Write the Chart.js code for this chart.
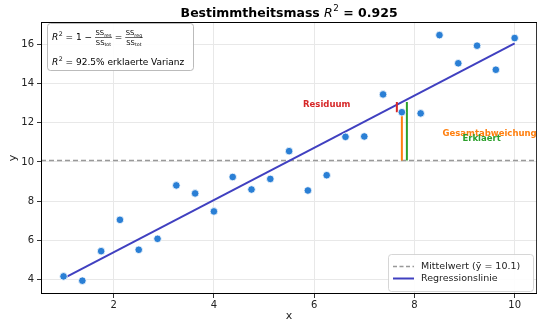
<!DOCTYPE html>
<html>
<head>
<meta charset="utf-8">
<script src="https://cdn.jsdelivr.net/npm/chart.js@4.4.0/dist/chart.umd.min.js"></script>
<style>
  html, body { margin: 0; padding: 0; background: #fff; overflow: hidden; }
  #wrap { width: 537px; height: 322px; overflow: hidden; }
</style>
</head>
<body>
<div id="wrap"><canvas id="chart" width="542" height="322"></canvas></div>
<script>
// data
const xVals = [1, 1.375, 1.75, 2.125, 2.5, 2.875, 3.25, 3.625, 4, 4.375, 4.75, 5.125, 5.5,
  5.875, 6.25, 6.625, 7, 7.375, 7.75, 8.125, 8.5, 8.875, 9.25, 9.625, 10];
const yVals = [4.15, 3.93, 5.44, 7.04, 5.51, 6.07, 8.80, 8.39, 7.47, 9.23, 8.59, 9.13, 10.55,
  8.54, 9.32, 11.28, 11.30, 13.45, 12.54, 12.48, 16.48, 15.04, 15.94, 14.71, 16.33];
const meanY = 10.07;
const regX = [1, 10];
const regY = [4.05, 16.06];
const xTicks = [2, 4, 6, 8, 10];
const yTicks = [4, 6, 8, 10, 12, 14, 16];
const xRange = [0.55, 10.45];
const yRange = [3.25, 17.15];
// highlighted point and its deviations
const segX = 7.75;
const segYi = 12.54;
const segYhat = 13.06;

const FONT = '"DejaVu Sans", sans-serif';

const scatterPts = xVals.map((x, i) => ({ x, y: yVals[i] }));
const regPts = regX.map((x, i) => ({ x, y: regY[i] }));

function seg(x, y0, y1, color, order) {
  return {
    data: [{ x, y: y0 }, { x, y: y1 }],
    showLine: true, borderColor: color, borderWidth: 2, pointRadius: 0, order
  };
}

function drawFrac(ctx, x, yBase, num, numSub, den, denSub) {
  const big = 6.8, small = 4.8;
  function part(txt, sub, yb) {
    ctx.font = big + 'px ' + FONT;
    const w1 = ctx.measureText(txt).width;
    ctx.font = small + 'px ' + FONT;
    const w2 = ctx.measureText(sub).width;
    return { w: w1 + w2, draw(x0) {
      ctx.font = big + 'px ' + FONT; ctx.fillText(txt, x0, yb);
      ctx.font = small + 'px ' + FONT; ctx.fillText(sub, x0 + w1, yb + 1.5);
    } };
  }
  const n = part(num, numSub, yBase - 4.8);
  const d = part(den, denSub, yBase + 4.6);
  const w = Math.max(n.w, d.w) + 1;
  n.draw(x + (w - n.w) / 2);
  d.draw(x + (w - d.w) / 2);
  ctx.fillRect(x, yBase - 3, w, 0.6);
  return w;
}

function drawR2(ctx, x, y, size) {
  ctx.font = 'oblique ' + size + 'px ' + FONT;
  ctx.fillText('R', x, y);
  let cx = x + ctx.measureText('R').width + 0.5;
  ctx.font = (size * 0.7) + 'px ' + FONT;
  ctx.fillText('2', cx, y - size * 0.42);
  return cx + ctx.measureText('2').width;
}

const overlay = {
  id: 'overlay',
  afterDatasetsDraw(chart) {
    const { ctx, chartArea: a, scales } = chart;
    const sx = scales.x, sy = scales.y;
    ctx.save();

    // frame
    ctx.strokeStyle = '#000';
    ctx.lineWidth = 1;
    ctx.strokeRect(a.left + 0.5, a.top + 0.5, a.right - a.left - 1, a.bottom - a.top - 1);

    // annotations
    ctx.font = 'bold 8.5px ' + FONT;
    ctx.textAlign = 'center';
    ctx.textBaseline = 'middle';
    ctx.fillStyle = '#d62728';
    ctx.fillText('Residuum', sx.getPixelForValue(segX - 1.5), sy.getPixelForValue(12.93));
    ctx.fillStyle = '#ff7f0e';
    ctx.fillText('Gesamtabweichung', sx.getPixelForValue(9.5), sy.getPixelForValue(11.45));
    ctx.fillStyle = '#2ca02c';
    ctx.fillText('Erklaert', sx.getPixelForValue(9.34), sy.getPixelForValue(11.2));

    // formula box
    ctx.textAlign = 'left';
    ctx.textBaseline = 'alphabetic';
    ctx.fillStyle = 'rgba(255,255,255,0.9)';
    ctx.strokeStyle = '#aaa';
    ctx.lineWidth = 0.8;
    ctx.beginPath();
    ctx.roundRect(47.5, 23.5, 146, 47, 3);
    ctx.fill();
    ctx.stroke();
    ctx.fillStyle = '#000';
    let cx = drawR2(ctx, 52, 40, 9);
    ctx.font = '9px ' + FONT;
    ctx.fillText(' = 1 \u2212 ', cx, 40);
    cx += ctx.measureText(' = 1 \u2212 ').width;
    cx += drawFrac(ctx, cx, 40, 'SS', 'res', 'SS', 'tot');
    ctx.font = '9px ' + FONT;
    ctx.fillText(' = ', cx, 40);
    cx += ctx.measureText(' = ').width;
    drawFrac(ctx, cx, 40, 'SS', 'reg', 'SS', 'tot');
    cx = drawR2(ctx, 52, 65, 9);
    ctx.font = '9px ' + FONT;
    ctx.fillText(' = 92.5% erklaerte Varianz', cx, 65);

    // legend
    ctx.fillStyle = 'rgba(255,255,255,0.9)';
    ctx.strokeStyle = '#ccc';
    ctx.beginPath();
    ctx.roundRect(388.5, 254.5, 145, 37, 3);
    ctx.fill();
    ctx.stroke();
    ctx.lineWidth = 1.6;
    ctx.strokeStyle = '#999';
    ctx.setLineDash([4, 2.5]);
    ctx.beginPath(); ctx.moveTo(393, 266.5); ctx.lineTo(414, 266.5); ctx.stroke();
    ctx.setLineDash([]);
    ctx.lineWidth = 2;
    ctx.strokeStyle = '#4040c0';
    ctx.beginPath(); ctx.moveTo(393, 278.5); ctx.lineTo(414, 278.5); ctx.stroke();
    ctx.fillStyle = '#222';
    ctx.font = '9.5px ' + FONT;
    ctx.textBaseline = 'middle';
    ctx.fillText('Mittelwert (y\u0304 = 10.1)', 421, 266.5);
    ctx.fillText('Regressionslinie', 421, 278.5);

    // axis labels
    ctx.fillStyle = '#222';
    ctx.font = '11px ' + FONT;
    ctx.textAlign = 'center';
    ctx.fillText('x', (a.left + a.right) / 2, 316);
    ctx.save();
    ctx.translate(13, (a.top + a.bottom) / 2);
    ctx.rotate(-Math.PI / 2);
    ctx.fillText('y', 0, 0);
    ctx.restore();

    // title
    ctx.fillStyle = '#000';
    ctx.textAlign = 'left';
    ctx.textBaseline = 'alphabetic';
    const ts = 12.5;
    const p1 = 'Bestimmtheitsmass ', p3 = ' = 0.925';
    ctx.font = 'bold ' + ts + 'px ' + FONT;
    const w1 = ctx.measureText(p1).width, w3 = ctx.measureText(p3).width;
    ctx.font = 'oblique ' + ts + 'px ' + FONT;
    const wr = ctx.measureText('R').width;
    ctx.font = (ts * 0.7) + 'px ' + FONT;
    const w2 = ctx.measureText('2').width;
    const total = w1 + wr + 0.5 + w2 + w3;
    let tx = (a.left + a.right) / 2 - total / 2;
    const ty = 16.5;
    ctx.font = 'bold ' + ts + 'px ' + FONT;
    ctx.fillText(p1, tx, ty);
    tx = drawR2(ctx, tx + w1, ty, ts);
    ctx.font = 'bold ' + ts + 'px ' + FONT;
    ctx.fillText(p3, tx, ty);

    ctx.restore();
  }
};

new Chart(document.getElementById('chart'), {
  type: 'scatter',
  data: {
    datasets: [
      {
        label: 'Daten', data: scatterPts,
        backgroundColor: '#2a7fd5', borderColor: '#fff', borderWidth: 0.8,
        pointRadius: 3.8, order: 0
      },
      {
        label: 'Regressionslinie', data: regPts, showLine: true,
        borderColor: '#4040c0', borderWidth: 2, pointRadius: 0, order: 2
      },
      {
        label: 'Mittelwert', data: [{ x: xRange[0], y: meanY }, { x: xRange[1], y: meanY }],
        showLine: true, borderColor: '#999', borderWidth: 1.6, borderDash: [5, 3],
        pointRadius: 0, order: 4
      },
      seg(segX - 0.1, segYi, segYhat, '#d62728', 1),
      seg(segX, meanY, segYi, '#ff7f0e', 1),
      seg(segX + 0.1, meanY, segYhat, '#2ca02c', 1)
    ]
  },
  options: {
    responsive: false,
    animation: false,
    events: [],
    layout: { padding: { top: 22, right: 0, left: 0, bottom: 0 } },
    plugins: { legend: { display: false }, tooltip: { enabled: false }, title: { display: false } },
    scales: {
      x: {
        type: 'linear', min: xRange[0], max: xRange[1],
        afterBuildTicks: s => { s.ticks = xTicks.map(v => ({ value: v })); },
        afterFit: s => { s.height = 28; },
        grid: { color: '#e8e8e8', tickColor: '#333', tickLength: 4 },
        border: { display: false },
        ticks: { color: '#222', font: { family: 'DejaVu Sans', size: 10 }, padding: 1, maxRotation: 0 }
      },
      y: {
        type: 'linear', min: yRange[0], max: yRange[1],
        afterBuildTicks: s => { s.ticks = yTicks.map(v => ({ value: v })); },
        afterFit: s => { s.width = 41; },
        grid: { color: '#e8e8e8', tickColor: '#333', tickLength: 4 },
        border: { display: false },
        ticks: { color: '#222', font: { family: 'DejaVu Sans', size: 10 }, padding: 3 }
      }
    }
  },
  plugins: [overlay]
});
</script>
</body>
</html>
